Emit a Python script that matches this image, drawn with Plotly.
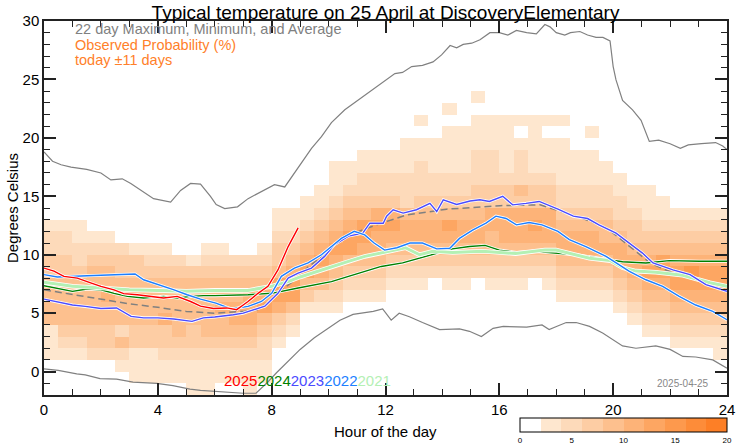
import plotly.graph_objects as go

# ---------------- data ----------------
# heatmap: one string per half-hour column, digit = probability class (value/2), rows T=-2..29 (1 degree bins)
prob_cols = [
    "000111444433221", "000123444433221", "000123444432211", "00023344444321",
    "00023344544321", "0012424444332", "0111334444331", "0111334444321",
    "0112335444321", "011234444432", "111233444431", "1112344444321",
    "0112344544321", "011234554432", "111234555432", "0112234654321",
    "0000123566433211", "0000012466543211", "00000001346543211", "000000012456543211",
    "00000001234565432111", "00000000123466543211", "000000001234566432211", "000000001234556532211",
    "000000000123456532211", "0000000001234554222111", "000000000123455432221101", "0000000000234554322111",
    "0000000001234564322111101", "00000000012345543221111", "00000000002345543322211101", "000000000123445533222111",
    "000000000123455533211111", "000000000123455534222101", "000000000023456533211111", "000000000123455533211101",
    "000000001234554322111101", "000000001234554322111", "00000000123455432211101", "00000000123454432211",
    "0000000123455432211", "000000123455433211", "000001234565432111", "00000123456643211",
    "0000123456654321", "0000123456754321", "0000123456654321", "0001123456654321",
]
prob_levels = [0, 2, 4, 6, 8, 10, 12, 14, 16, 18]
prob_colors = ["#FFFFFF", "#FEE7CF", "#FDDABA", "#FDCDA4", "#FDC08E", "#FDB378",
               "#FDA662", "#FD994D", "#FD8C39", "#FD7F26"]

max_h = [0, 0.3, 0.6, 0.95, 1.5, 2.0, 2.35, 2.75, 3.05, 3.4, 3.85, 4.45, 4.8, 5.15, 5.5,
         5.85, 6.05, 6.35, 6.8, 7.17, 7.76, 8.1, 8.46, 8.93, 9.4, 9.75, 10.1, 10.57, 11.03,
         12.04, 12.33, 12.6, 12.92, 13.3, 13.67, 13.97, 14.27, 14.5, 14.73, 15.03, 15.32,
         15.67, 16.0, 16.3, 16.6, 16.96, 17.3, 17.6, 17.78, 18.0, 18.3, 18.5, 18.83, 19.1,
         19.4, 19.64, 19.89, 20.0, 20.1, 20.33, 20.68, 20.98, 21.15, 21.27, 21.6, 22.0,
         22.36, 22.64, 23.1, 23.6, 23.85, 24.0]
max_v = [18.8, 18.0, 17.7, 17.5, 17.3, 17.0, 16.4, 16.5, 16.1, 15.5, 14.8, 14.5, 15.5, 16.1,
         16.05, 15.0, 14.3, 13.95, 14.1, 14.8, 15.6, 16.0, 15.8, 17.5, 19.1, 20.1, 21.3, 22.4,
         23.2, 24.96, 25.5, 25.6, 26.1, 26.2, 26.5, 27.1, 27.9, 27.7, 28.0, 28.1, 28.4, 29.0,
         29.0, 28.8, 29.2, 29.0, 28.9, 29.7, 29.5, 29.0, 28.8, 29.0, 29.1, 28.8, 28.6, 28.6,
         28.3, 26.1, 24.96, 23.2, 22.4, 21.5, 20.4, 19.7, 19.8, 19.5, 19.1, 19.4, 19.5, 19.6,
         19.3, 19.0]

min_h = [0, 0.5, 1.15, 1.45, 1.97, 2.55, 3.13, 3.96, 4.53, 5.13, 5.5, 6.07, 6.65, 7.0, 7.45,
         7.82, 8.17, 8.5, 9.0, 9.5, 10.0, 10.4, 10.86, 11.57, 11.9, 12.2, 12.48, 12.84, 13.3,
         13.9, 14.6, 14.95, 15.37, 15.78, 16.14, 16.96, 17.5, 17.75, 18.05, 18.35, 18.7, 19.17,
         19.63, 19.99, 20.33, 20.8, 21.5, 22.0, 22.45, 22.9, 23.5, 24.0]
min_v = [0.23, 0.1, -0.2, -0.28, -0.6, -0.65, -0.9, -1.0, -1.2, -1.5, -1.6, -1.7, -1.8, -1.85,
         -1.85, -1.0, -0.1, 0.7, 1.9, 2.9, 3.7, 4.4, 4.9, 5.15, 5.37, 4.4, 5.0, 4.7, 4.2, 3.6,
         3.65, 3.45, 3.0, 3.7, 3.87, 3.8, 4.0, 3.6, 3.9, 4.2, 4.2, 3.87, 3.3, 2.7, 2.2, 2.0,
         2.2, 1.9, 1.3, 1.25, 1.0, 0.3]

avg_h = [0, 1, 2, 3, 4, 5, 6, 7, 7.5, 7.75, 8.3, 8.9, 9.3, 9.7, 10.1, 10.4, 10.7, 11.27,
         11.85, 12.74, 14.15, 15.32, 16.03, 17.43, 18.13, 18.94, 19.77, 20.6, 21.3, 21.88,
         22.5, 23.2, 24.0]
avg_v = [7.0, 6.6, 6.15, 5.8, 5.5, 5.15, 5.0, 5.15, 5.3, 5.7, 6.9, 8.0, 9.0, 9.7, 10.5,
         11.2, 11.6, 12.2, 12.7, 13.4, 13.9, 14.1, 14.2, 14.27, 13.7, 13.1, 12.3, 10.7, 9.3,
         8.66, 8.2, 7.7, 7.2]

y2025_h = [0, 0.35, 0.7, 1.17, 1.64, 2.0, 2.46, 2.8, 3.28, 3.75, 4.2, 4.68, 5.15, 5.5, 5.95,
           6.42, 6.77, 7.0, 7.17, 7.52, 7.87, 8.22, 8.58, 8.93]
y2025_v = [8.86, 8.6, 8.15, 8.0, 7.6, 7.3, 7.0, 6.67, 6.58, 6.44, 6.3, 6.44, 6.0, 5.6, 5.4,
           5.45, 5.3, 5.7, 6.0, 6.7, 7.3, 8.7, 10.7, 12.3]

y2024_h = [0, 0.47, 1.0, 1.52, 2.0, 2.46, 2.93, 3.5, 4.2, 4.7, 5.15, 5.6, 6.0, 7.17, 8.0, 8.93,
           9.5, 10.1, 10.7, 11.27, 11.85, 12.6, 13.2, 13.77, 14.35, 14.95, 15.5, 16.0, 16.6,
           17.2, 18.05, 18.7, 19.5, 20.33, 21.15, 21.97, 23.03, 24.0]
y2024_v = [7.35, 7.15, 6.87, 7.07, 7.0, 6.7, 6.44, 6.3, 6.44, 6.3, 6.44, 6.5, 6.5, 6.58, 6.7,
           7.15, 7.44, 7.7, 8.15, 8.58, 9.0, 9.3, 9.7, 10.1, 10.5, 10.7, 10.8, 10.4, 10.2, 10.3,
           10.1, 10.0, 9.7, 9.4, 9.3, 9.5, 9.45, 9.45]

y2023_h = [0, 1, 1.45, 2.0, 2.55, 3.06, 3.5, 4.0, 4.56, 5.2, 5.6, 6.0, 6.65, 7.0, 7.76, 8.22,
           8.58, 8.93, 9.4, 9.86, 10.2, 10.7, 11.2, 11.45, 11.92, 12.04, 12.27, 12.62, 13.09,
           13.56, 13.8, 14.03, 14.5, 14.97, 15.32, 15.65, 16.12, 16.47, 16.94, 17.4, 18.06,
           18.6, 19.1, 19.5, 20.1, 20.57, 21.03, 21.4, 22.1, 22.7, 23.26, 24.0]
y2023_v = [6.2, 5.7, 5.58, 5.4, 5.45, 4.73, 4.6, 4.6, 4.5, 4.3, 4.6, 4.67, 4.87, 5.0, 5.6, 6.7,
           8.0, 8.43, 8.86, 9.86, 10.85, 11.6, 11.85, 12.7, 12.7, 13.3, 13.85, 13.56, 13.85,
           14.4, 13.7, 14.7, 14.3, 14.6, 14.7, 14.56, 15.0, 14.27, 14.4, 14.56, 13.9, 13.3,
           13.1, 12.56, 11.85, 11.0, 10.14, 9.3, 8.7, 8.3, 7.44, 6.87]

y2022_h = [0, 0.47, 1.52, 2.46, 3.2, 3.5, 4.04, 4.57, 5.03, 5.5, 6.04, 6.58, 7.17, 7.64, 8.0,
           8.34, 8.8, 9.28, 9.75, 10.1, 10.45, 10.9, 11.27, 11.6, 11.97, 12.4, 12.86, 13.3,
           13.8, 14.26, 14.6, 15.06, 15.53, 15.88, 16.24, 16.6, 17.05, 17.5, 18.06, 18.46,
           19.04, 19.75, 20.57, 21.15, 21.74, 22.32, 22.9, 23.5, 24.0]
y2022_v = [8.3, 8.1, 8.2, 8.3, 8.35, 7.86, 7.44, 7.0, 6.58, 6.2, 5.86, 5.36, 5.58, 6.0, 6.7,
           8.15, 8.86, 9.3, 10.0, 10.7, 11.4, 12.0, 11.7, 11.0, 10.4, 10.6, 11.0, 11.0, 10.5,
           10.56, 11.4, 12.1, 12.7, 13.3, 13.1, 12.56, 12.76, 12.56, 12.0, 11.3, 10.7, 9.86,
           8.58, 7.86, 7.3, 6.44, 5.7, 5.15, 4.44]

y2021_h = [0, 1, 2, 3, 4, 5, 6, 7.17, 8.0, 8.58, 9.0, 9.5, 10.1, 10.7, 11.27, 11.85, 12.7,
           13.2, 13.66, 14.36, 15.4, 16.57, 17.6, 18.0, 19.17, 19.9, 20.33, 20.8, 21.5, 22.45,
           23.4, 24.0]
y2021_v = [7.64, 7.3, 7.15, 7.0, 6.95, 6.87, 6.95, 6.95, 7.3, 7.7, 8.1, 8.5, 9.0, 9.43, 9.86,
           10.14, 10.6, 10.0, 10.3, 10.2, 10.3, 10.1, 10.4, 10.4, 9.7, 9.5, 8.9, 8.6, 8.5,
           8.25, 7.6, 7.3]

years = ["2025", "2024", "2023", "2022", "2021"]
year_colors = ["#FF0000", "#008000", "#4B4BFF", "#1E7FFF", "#B4F0B4"]
year_data = {"2025": (y2025_h, y2025_v), "2024": (y2024_h, y2024_v), "2023": (y2023_h, y2023_v),
             "2022": (y2022_h, y2022_v), "2021": (y2021_h, y2021_v)}

# ---------------- figure ----------------
W, H = 742, 445
L, R, T, B = 44, 15, 21, 50
PW, PH = W - L - R, H - T - B

n_rows = 32
z = []
for r in range(n_rows):
    row = []
    for s in prob_cols:
        lv = int(s[r]) if r < len(s) else 0
        row.append(prob_levels[lv] + 1 if lv > 0 else None)
    z.append(row)
xc = [0.25 + 0.5 * i for i in range(len(prob_cols))]
yc = [-1.5 + r for r in range(n_rows)]

cs = []
for k, c in enumerate(prob_colors):
    cs.append([k / 10, c])
    cs.append([(k + 1) / 10, c])

font = "Liberation Sans"
fig = go.Figure()
fig.add_trace(go.Heatmap(
    x=xc, y=yc, z=z, zmin=0, zmax=20, colorscale=cs, hoverinfo="skip",
    colorbar=dict(orientation="h",
                  x=(520 - L) / PW, xanchor="left", y=(395 - 418) / PH, yanchor="top",
                  len=207 / PW, lenmode="fraction", thickness=14, thicknessmode="pixels",
                  outlinewidth=1, outlinecolor="black", xpad=0, ypad=0,
                  tickvals=[0, 5, 10, 15, 20], ticks="",
                  tickfont=dict(size=8, color="black", family=font))
))

gray = "#808080"
fig.add_trace(go.Scatter(x=max_h, y=max_v, mode="lines", line=dict(color=gray, width=1.2)))
fig.add_trace(go.Scatter(x=min_h, y=min_v, mode="lines", line=dict(color=gray, width=1.2)))
fig.add_trace(go.Scatter(x=avg_h, y=avg_v, mode="lines",
                         line=dict(color=gray, width=1.5, dash="7px,4px")))

draw_order = ["2024", "2021", "2023", "2022", "2025"]
for yr in draw_order:
    hx, vy = year_data[yr]
    c = year_colors[years.index(yr)]
    w = 3.0 if yr == "2021" else 1.4
    fig.add_trace(go.Scatter(x=hx, y=vy, mode="lines", line=dict(color="white", width=w + 1.6)))
    fig.add_trace(go.Scatter(x=hx, y=vy, mode="lines", line=dict(color=c, width=w)))

axis_common = dict(showline=True, linecolor="#222", linewidth=1.5, mirror="allticks",
                   ticks="inside", ticklen=12, tickwidth=1.5, tickcolor="#222",
                   showgrid=False, zeroline=False,
                   tickfont=dict(size=15, color="black", family=font))
fig.update_xaxes(range=[0, 24], tickvals=[0, 4, 8, 12, 16, 20, 24],
                 minor=dict(dtick=1, ticks="inside", ticklen=6, tickcolor="#222", tickwidth=1.2),
                 **axis_common)
fig.update_yaxes(range=[-2, 30], tickvals=[0, 5, 10, 15, 20, 25, 30],
                 minor=dict(dtick=1, ticks="inside", ticklen=6, tickcolor="#222", tickwidth=1.2),
                 **axis_common)


def py(ypx):
    return (H - B - ypx) / PH


def px(xpx):
    return (xpx - L) / PW


ann = []
ann.append(dict(text="22 day Maximum, Minimum, and Average", x=px(73), y=py(29),
                xref="paper", yref="paper", xanchor="left", yanchor="middle", showarrow=False,
                font=dict(size=14.5, color=gray, family=font)))
ann.append(dict(text="Observed Probability (%)", x=px(73), y=py(44.5),
                xref="paper", yref="paper", xanchor="left", yanchor="middle", showarrow=False,
                font=dict(size=14.5, color="#FF7F2A", family=font)))
ann.append(dict(text="today ±11 days", x=px(73), y=py(60),
                xref="paper", yref="paper", xanchor="left", yanchor="middle", showarrow=False,
                font=dict(size=14.5, color="#FF7F2A", family=font)))
ytxt = "".join(f'<span style="color:{c}">{y}</span>' for y, c in zip(years, year_colors))
ann.append(dict(text=ytxt, x=px(222), y=py(380), xref="paper", yref="paper",
                xanchor="left", yanchor="middle", showarrow=False,
                font=dict(size=15, family=font)))
ann.append(dict(text="2025-04-25", x=px(683), y=py(383), xref="paper",
                yref="paper", xanchor="center", yanchor="middle", showarrow=False,
                font=dict(size=10, color="#888", family=font)))
ann.append(dict(text="Hour of the day", x=0.5, y=py(431), xref="paper", yref="paper",
                xanchor="center", yanchor="middle", showarrow=False,
                font=dict(size=15, color="black", family=font)))
ann.append(dict(text="Degrees Celsius", x=px(12), y=py(208), xref="paper",
                yref="paper", xanchor="center", yanchor="middle", textangle=-90, showarrow=False,
                font=dict(size=15, color="black", family=font)))

fig.update_layout(
    width=W, height=H, margin=dict(l=L, r=R, t=T, b=B, autoexpand=False),
    paper_bgcolor="white", plot_bgcolor="white", showlegend=False,
    title=dict(text="Typical temperature on 25 April at DiscoveryElementary",
               x=385.5 / W, xanchor="center", y=1 - 12 / H, yanchor="middle",
               font=dict(size=19, color="black", family=font)),
    annotations=ann,
)

fig.write_html("out.html")
